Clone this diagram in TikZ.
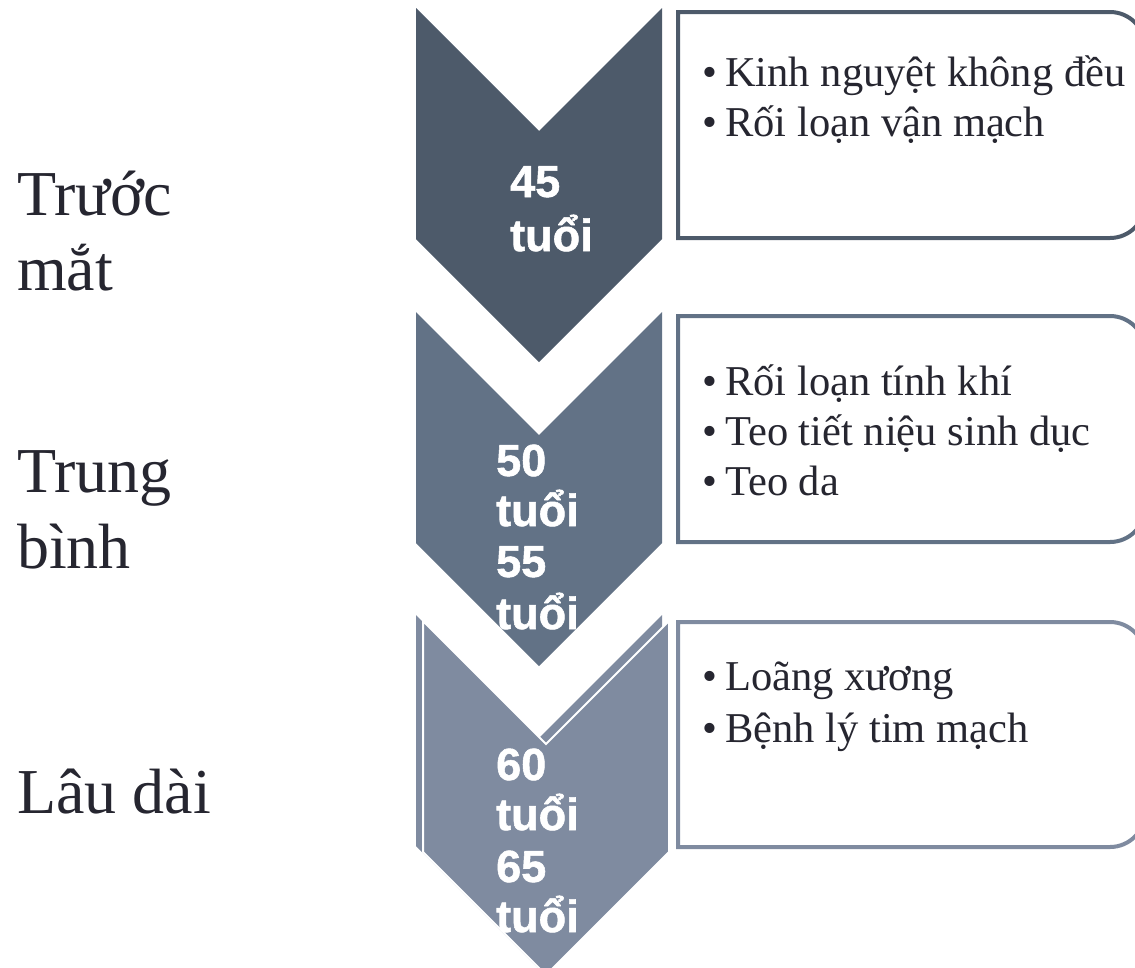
\documentclass[tikz,border=0pt]{standalone}
\usepackage{fontspec}
\setmainfont{Liberation Serif}
\newfontfamily\chevfont{Liberation Sans}[BoldFont={Liberation Sans Bold},BoldFeatures={FakeBold=1.2}]
\definecolor{cone}{RGB}{77,90,106}
\definecolor{ctwo}{RGB}{98,114,134}
\definecolor{cthree}{RGB}{127,139,160}
\definecolor{ink}{RGB}{38,38,48}
\tikzset{
  lbl/.style={anchor=base west,inner sep=0pt,text=ink,font=\fontsize{64}{76}\selectfont},
  itm/.style={anchor=base west,inner sep=0pt,text=ink,font=\fontsize{42.5}{50}\selectfont},
  age/.style={anchor=base west,inner sep=0pt,text=white,font=\chevfont\bfseries\fontsize{45}{50}\selectfont},
}
\newcommand\chevpath[2]{(#1,#2) -- ({#1+123},{#2+123}) -- ({#1+246},#2) -- ({#1+246},{#2+231}) -- ({#1+123},{#2+354}) -- (#1,{#2+231}) -- cycle}
\newcommand\sidebox[3]{%
  \draw[line width=4pt,#3,fill=white] (678,#1) -- (1110,#1) .. controls (1129.3,#1) and (1145,{#1+15.7}) .. (1145,{#1+35}) -- (1145,{#2-35}) .. controls (1145,{#2-15.7}) and (1129.3,#2) .. (1110,#2) -- (678,#2) -- cycle;}
\newcommand\itemline[3]{\node[itm] (#1) at (702,#2) {\makebox[23pt][l]{•}#3};}
\begin{document}
\begin{tikzpicture}[x=1pt,y=-1pt]
\useasboundingbox (0,0) rectangle (1135,967);
% chevrons
\fill[cone] \chevpath{416}{8};
\fill[ctwo] \chevpath{416}{312};
\fill[cthree] \chevpath{416}{615};
\filldraw[cthree,draw=white,line width=2pt] \chevpath{423}{621};
% boxes
\sidebox{12}{238}{cone}
\sidebox{316}{542}{ctwo}
\sidebox{622}{847}{cthree}
% left labels
\node[lbl] (l1a) at (17,215) {Trước};
\node[lbl] (l1b) at (17,290) {mắt};
\node[lbl] (l2a) at (17,492) {Trung};
\node[lbl] (l2b) at (17,568) {bình};
\node[lbl] (l3) at (17,813) {Lâu dài};
% chevron texts
\node[age] (a1a) at (510,197) {45};
\node[age] (a1b) at (510,251) {tuổi};
\node[age] (a2a) at (496,476) {50};
\node[age] (a2b) at (496,526) {tuổi};
\node[age] (a2c) at (496,577) {55};
\node[age] (a2d) at (496,629) {tuổi};
\node[age] (a3a) at (496,780) {60};
\node[age] (a3b) at (496,830) {tuổi};
\node[age] (a3c) at (496,882) {65};
\node[age] (a3d) at (496,932) {tuổi};
% box items
\itemline{b1a}{86}{Kinh nguyệt không đều}
\itemline{b1b}{136}{Rối loạn vận mạch}
\itemline{b2a}{395}{Rối loạn tính khí}
\itemline{b2b}{445}{Teo tiết niệu sinh dục}
\itemline{b2c}{495}{Teo da}
\itemline{b3a}{690}{Loãng xương}
\itemline{b3b}{742}{Bệnh lý tim mạch}
\end{tikzpicture}
\end{document}
